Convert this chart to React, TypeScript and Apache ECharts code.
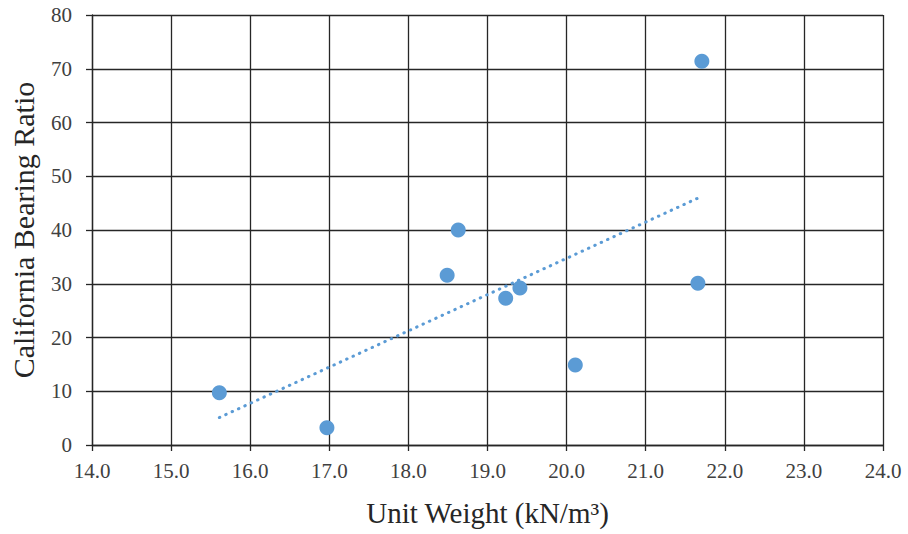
import React, { useEffect, useRef } from "react";
import * as echarts from "echarts";

const unitWeight = [15.61, 16.97, 18.49, 18.63, 19.23, 19.41, 20.11, 21.66, 21.71];
const cbr = [9.7, 3.2, 31.6, 40.0, 27.3, 29.2, 14.9, 30.1, 71.4];
const xTitle = "Unit Weight (kN/m³)";
const yTitle = "California Bearing Ratio";

function trend(xs: number[], ys: number[]) {
  const n = xs.length;
  const mx = xs.reduce((a, b) => a + b, 0) / n;
  const my = ys.reduce((a, b) => a + b, 0) / n;
  let sxy = 0, sxx = 0;
  for (let i = 0; i < n; i++) {
    sxy += (xs[i] - mx) * (ys[i] - my);
    sxx += (xs[i] - mx) * (xs[i] - mx);
  }
  const m = sxy / sxx;
  const b = my - m * mx;
  const x0 = Math.min(...xs), x1 = Math.max(...xs);
  return [[x0, m * x0 + b], [x1, m * x1 + b]];
}

export default function App() {
  const ref = useRef<HTMLDivElement>(null);
  useEffect(() => {
    const chart = echarts.init(ref.current!, null, { renderer: "svg" });
    const font = "Liberation Serif";
    const gridLine = { show: true, lineStyle: { color: "#262626", width: 1.3 } };
    chart.setOption({
      animation: false,
      backgroundColor: "#ffffff",
      grid: { left: 92, right: 25, top: 15, bottom: 89, containLabel: false, outerBoundsMode: "none" },
      xAxis: {
        type: "value",
        min: 14,
        max: 24,
        interval: 1,
        name: xTitle,
        nameLocation: "middle",
        nameGap: 53,
        nameTextStyle: { fontFamily: font, fontSize: 29, color: "#262626" },
        axisLine: { show: true, onZero: false, lineStyle: { color: "#262626", width: 1.3 } },
        axisTick: { show: true, length: 6, lineStyle: { color: "#262626", width: 1.3 } },
        axisLabel: {
          fontFamily: font,
          fontSize: 21,
          color: "#404040",
          margin: 15,
          formatter: (v: number) => v.toFixed(1),
        },
        splitLine: gridLine,
      },
      yAxis: {
        type: "value",
        min: 0,
        max: 80,
        interval: 10,
        name: yTitle,
        nameLocation: "middle",
        nameGap: 54,
        nameTextStyle: { fontFamily: font, fontSize: 30, color: "#262626" },
        axisLine: { show: true, lineStyle: { color: "#262626", width: 1.3 } },
        axisTick: { show: true, length: 6, lineStyle: { color: "#262626", width: 1.3 } },
        axisLabel: { fontFamily: font, fontSize: 21, color: "#404040", margin: 20 },
        splitLine: gridLine,
      },
      series: [
        {
          type: "line",
          data: trend(unitWeight, cbr),
          showSymbol: false,
          symbol: "none",
          lineStyle: { color: "#5B9BD5", width: 3, type: [0.5, 6.5], cap: "round" },
          silent: true,
          z: 2,
        },
        {
          type: "scatter",
          data: unitWeight.map((x, i) => [x, cbr[i]]),
          symbol: "circle",
          symbolSize: 15,
          itemStyle: { color: "#5B9BD5", opacity: 1 },
          z: 3,
        },
      ],
    });
    return () => chart.dispose();
  }, []);
  return (
    <div
      ref={ref}
      style={{ position: "absolute", left: 0, top: 0, width: 908, height: 534 }}
    />
  );
}
